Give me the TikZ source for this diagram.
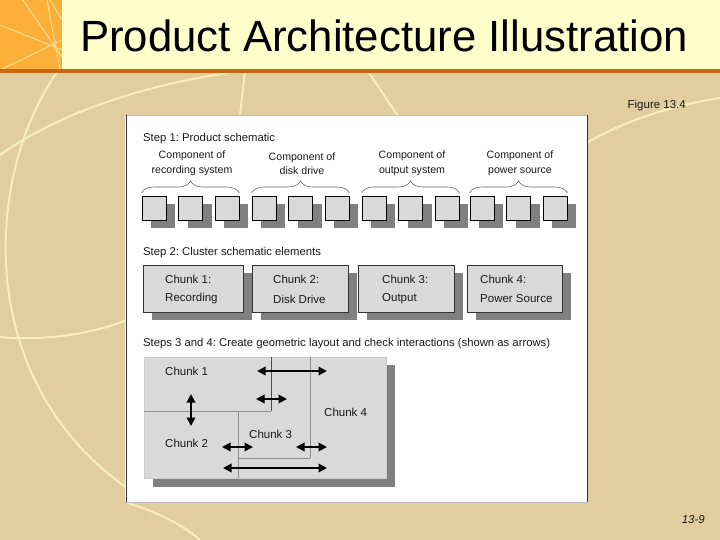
\documentclass[tikz,border=0pt]{standalone}
\usepackage{fontspec}
\setmainfont{Liberation Sans}
\usetikzlibrary{arrows.meta,decorations.pathreplacing,calc}
\definecolor{bgtan}{RGB}{226,205,160}
\definecolor{titlebg}{RGB}{255,255,204}
\definecolor{orsq}{RGB}{252,176,58}
\definecolor{orline}{RGB}{200,104,16}
\definecolor{pale}{RGB}{248,238,190}
\definecolor{paleor}{RGB}{255,222,140}
\definecolor{boxfill}{RGB}{217,217,217}
\definecolor{shadowc}{RGB}{128,128,128}
\definecolor{inkc}{RGB}{25,25,25}
\frenchspacing
\begin{document}
\begin{tikzpicture}[x=1pt,y=-1pt,
  curve/.style={draw=pale,line width=2pt},
  smallbox/.style={draw=black,line width=0.8pt,fill=boxfill,minimum size=24pt,inner sep=0pt},
  chunkbox/.style={draw=black!80,line width=0.7pt,fill=boxfill,inner sep=0pt},
  shade/.style={fill=shadowc},
  txt/.style={inner sep=0pt,text=inkc,font=\fontsize{11.3}{13}\selectfont},
  steplabel/.style={txt,anchor=west},
  complabel/.style={txt,align=center,font=\fontsize{10.6}{14.5}\selectfont},
  bracestyle/.style={draw=black!60,line width=0.6pt,decorate,decoration={brace,amplitude=12pt}},
  divline/.style={draw=black!45,line width=0.7pt},
  dblarrow/.style={draw=black,line width=1.8pt,{Triangle[length=8.5pt,width=8.5pt]}-{Triangle[length=8.5pt,width=8.5pt]}}]
\useasboundingbox (0,0) rectangle (720,540);
% background
\fill[bgtan] (0,0) rectangle (720,540);
% decorative curves
\draw[curve] (60,68) .. controls (-15,170) and (-30,380) .. (130,490);
\draw[curve] (0,155) .. controls (60,112) and (150,82) .. (250,70);
\draw[curve] (245,70) -- (240,116);
\draw[curve] (367,70) -- (398,116);
\draw[curve] (588,142) .. controls (630,118) and (680,104) .. (720,98);
\draw[curve] (0,337) .. controls (40,341) and (90,335) .. (127,320);
\draw[curve] (128,503) .. controls (150,510) and (180,522) .. (200,540);
% title band
\fill[titlebg] (0,0) rectangle (720,70);
\fill[orsq] (0,0) rectangle (62,70);
\begin{scope}
\clip (0,0) rectangle (62,70);
\draw[paleor,line width=1pt] (0,25) -- (62,50);
\draw[paleor,line width=1pt] (23,0) -- (62,57);
\draw[paleor,line width=1pt] (47,0) -- (60,70);
\draw[paleor,line width=1pt] (0,70) -- (62,40);
\draw[paleor,line width=1pt] (50,0) -- (62,20);
\end{scope}
\fill[orline] (0,69) rectangle (720,73);
\node[anchor=base west,inner sep=0pt] (title) at (80,52)
  {\resizebox{608pt}{!}{\fontsize{44}{44}\selectfont Product Architecture Illustration}};
\node[txt,anchor=east,font=\fontsize{11.5}{13}\selectfont] (fig) at (686,106) {Figure 13.4};
\node[txt,anchor=east,font=\fontsize{11.5}{13}\selectfont\itshape] (pg) at (705,520) {13-9};
% panel
\fill[white] (125,115) rectangle (588,502);
\draw[black!25,line width=0.6pt] (125,115) -- (588,115);
\draw[black!25,line width=0.6pt] (125,502) -- (588,502);
\draw[black!80,line width=0.9pt] (126,115) -- (126,502);
\draw[black!80,line width=0.9pt] (587,115) -- (587,502);
% Step 1
\node[steplabel] (s1) at (143,139) {Step 1: Product schematic};
\foreach \g/\gx/\t in {1/142/recording system,2/252/disk drive,3/362/output system,4/470/power source}{
  \foreach \b/\bo in {1/0,2/36.5,3/73}{
    \fill[shade] (\gx+\bo+9,204) rectangle (\gx+\bo+33,228);
  }
  \foreach \b/\bo in {1/0,2/36.5,3/73}{
    \node[smallbox] (sb\g\b) at (\gx+\bo+12,208) {};
  }
  \draw[bracestyle] (sb\g1.north west |- 0,193) -- (sb\g3.north east |- 0,193);
  \node[complabel] (cl\g) at (\gx+50,163.5) {Component of\\\t};
}
% Step 2
\node[steplabel] (s2) at (143,253) {Step 2: Cluster schematic elements};
\foreach \c/\xa/\xb/\tx/\ta/\tb in {1/143/243/165/Chunk 1:/Recording,2/252/348/273/Chunk 2:/Disk Drive,3/358/454/382/Chunk 3:/Output,4/467/562/480/Chunk 4:/Power Source}{
  \fill[shade] (\xa+9,273) rectangle (\xb+9,320);
  \node[chunkbox,minimum width=\xb pt-\xa pt,minimum height=47pt] (ch\c) at ({(\xa+\xb)/2},288.5) {};
  \node[steplabel,font=\fontsize{11.5}{13}\selectfont] (cha\c) at (\tx,279) {\ta};
  \node[steplabel,font=\fontsize{11.5}{13}\selectfont] (chb\c) at (\tx,299) {\tb};
}
% Steps 3 and 4
\node[steplabel] (s3) at (143,344) {Steps 3 and 4: Create geometric layout and check interactions (shown as arrows)};
\fill[shade] (153,365) rectangle (395,487);
\fill[boxfill] (144,357) rectangle (386,478);
\draw[black!20,line width=0.5pt] (144,357) rectangle (386,478);
\draw[divline] (144,411) -- (271,411);
\draw[divline] (238,411) -- (238,478);
\draw[divline] (310,357) -- (310,458);
\draw[divline] (238,458) -- (310,458);
\draw[black!70,line width=1pt] (271,357) -- (271,411);
\node[steplabel,font=\fontsize{11.5}{13}\selectfont] (k1) at (165,371) {Chunk 1};
\node[steplabel,font=\fontsize{11.5}{13}\selectfont] (k2) at (165,443) {Chunk 2};
\node[steplabel,font=\fontsize{11.5}{13}\selectfont] (k3) at (249,434) {Chunk 3};
\node[steplabel,font=\fontsize{11.5}{13}\selectfont] (k4) at (324,412) {Chunk 4};
\coordinate (a1l) at (257,371); \coordinate (a1r) at (327,371);
\coordinate (a2l) at (256,399); \coordinate (a2r) at (287,399);
\coordinate (a3t) at (191,394); \coordinate (a3b) at (191,426);
\coordinate (a4l) at (222,447); \coordinate (a4r) at (253,447);
\coordinate (a5l) at (296,447); \coordinate (a5r) at (327,447);
\coordinate (a6l) at (223,468); \coordinate (a6r) at (327,468);
\draw[dblarrow] (a1l) -- (a1r);
\draw[dblarrow] (a2l) -- (a2r);
\draw[dblarrow] (a3t) -- (a3b);
\draw[dblarrow] (a4l) -- (a4r);
\draw[dblarrow] (a5l) -- (a5r);
\draw[dblarrow] (a6l) -- (a6r);
\end{tikzpicture}
\end{document}
